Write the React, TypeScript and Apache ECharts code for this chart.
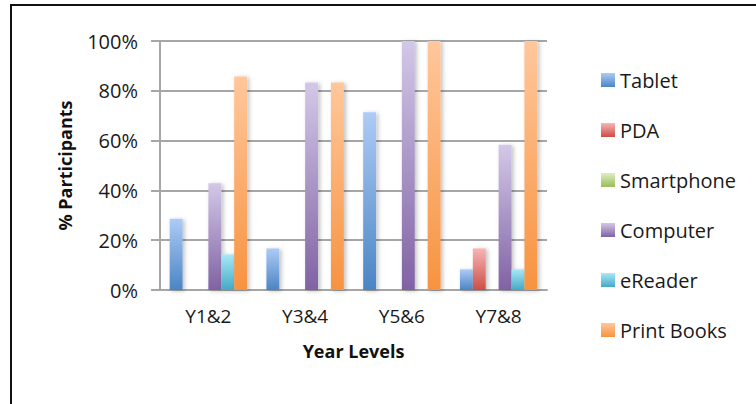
import React, { useEffect, useRef } from "react";
import * as echarts from "echarts";

const categories = ["Y1&2", "Y3&4", "Y5&6", "Y7&8"];
const seriesNames = ["Tablet", "PDA", "Smartphone", "Computer", "eReader", "Print Books"];
const tablet = [28.6, 16.7, 71.4, 8.3];
const pda = [0, 0, 0, 16.7];
const smartphone = [0, 0, 0, 0];
const computer = [42.9, 83.3, 100, 58.3];
const eReader = [14.3, 0, 0, 8.3];
const printBooks = [85.7, 83.3, 100, 100];
const yTicks = { min: 0, max: 100, interval: 20 };

const seriesData = [tablet, pda, smartphone, computer, eReader, printBooks];
const gradients: [string, string][] = [
  ["#adcbf6", "#4a85c4"],
  ["#f7b6b3", "#cd4d47"],
  ["#dcefc2", "#9bbb59"],
  ["#d3c8e8", "#8062a3"],
  ["#a8e8fa", "#45aac4"],
  ["#ffc79b", "#f79340"],
];

const FONT = "'Open Sans', Lato, sans-serif";

export default function App() {
  const ref = useRef<HTMLDivElement>(null);
  useEffect(() => {
    if (!ref.current) return;
    const chart = echarts.init(ref.current, undefined, { renderer: "svg" });
    const gridLine = { color: "#a6a6a6", width: 2 };
    chart.setOption({
      animation: false,
      backgroundColor: "transparent",
      textStyle: { fontFamily: FONT },
      grid: { left: 160, right: 209, top: 41, bottom: 114, containLabel: false },
      legend: {
        orient: "vertical",
        left: 596,
        top: 65,
        itemWidth: 14,
        itemHeight: 14,
        itemGap: 30,
        icon: "rect",
        textStyle: { fontSize: 20, color: "#1a1a1a", fontFamily: FONT, lineHeight: 20 },
        data: seriesNames,
      },
      xAxis: {
        type: "category",
        data: categories,
        axisLine: { show: true, lineStyle: gridLine },
        axisTick: { show: false },
        axisLabel: { fontSize: 19, color: "#1a1a1a", margin: 16, fontFamily: FONT },
        name: "Year Levels",
        nameLocation: "middle",
        nameGap: 52,
        nameTextStyle: { fontSize: 18, fontWeight: "bold", color: "#111", fontFamily: FONT },
      },
      yAxis: {
        type: "value",
        min: yTicks.min,
        max: yTicks.max,
        interval: yTicks.interval,
        axisLine: { show: true, lineStyle: gridLine },
        axisTick: { show: true, length: 9, lineStyle: gridLine },
        splitLine: { show: true, lineStyle: gridLine },
        axisLabel: { fontSize: 20, color: "#1a1a1a", margin: 22, formatter: "{value}%", fontFamily: FONT },
        name: "% Participants",
        nameLocation: "middle",
        nameRotate: 90,
        nameGap: 86,
        nameTextStyle: { fontSize: 18, fontWeight: "bold", color: "#111", fontFamily: FONT },
      },
      series: seriesNames.map((name, i) => ({
        name,
        type: "bar",
        data: seriesData[i],
        barGap: "0%",
        barCategoryGap: "20%",
        itemStyle: {
          color: new echarts.graphic.LinearGradient(0, 0, 0, 1, [
            { offset: 0, color: gradients[i][0] },
            { offset: 1, color: gradients[i][1] },
          ]),
          shadowBlur: 4,
          shadowColor: "rgba(0,0,0,0.25)",
          shadowOffsetX: 2,
          shadowOffsetY: 1,
        },
      })),
    });
    return () => chart.dispose();
  }, []);
  return (
    <div style={{ position: "fixed", left: 0, top: 0, width: 756, height: 404, overflow: "hidden", background: "#fff" }}>
      <div
        style={{
          position: "absolute",
          left: 10,
          top: 4,
          width: 800,
          height: 500,
          border: "2px solid #111",
          boxSizing: "border-box",
        }}
      />
      <div ref={ref} style={{ position: "absolute", left: 0, top: 0, width: 756, height: 404 }} />
    </div>
  );
}
